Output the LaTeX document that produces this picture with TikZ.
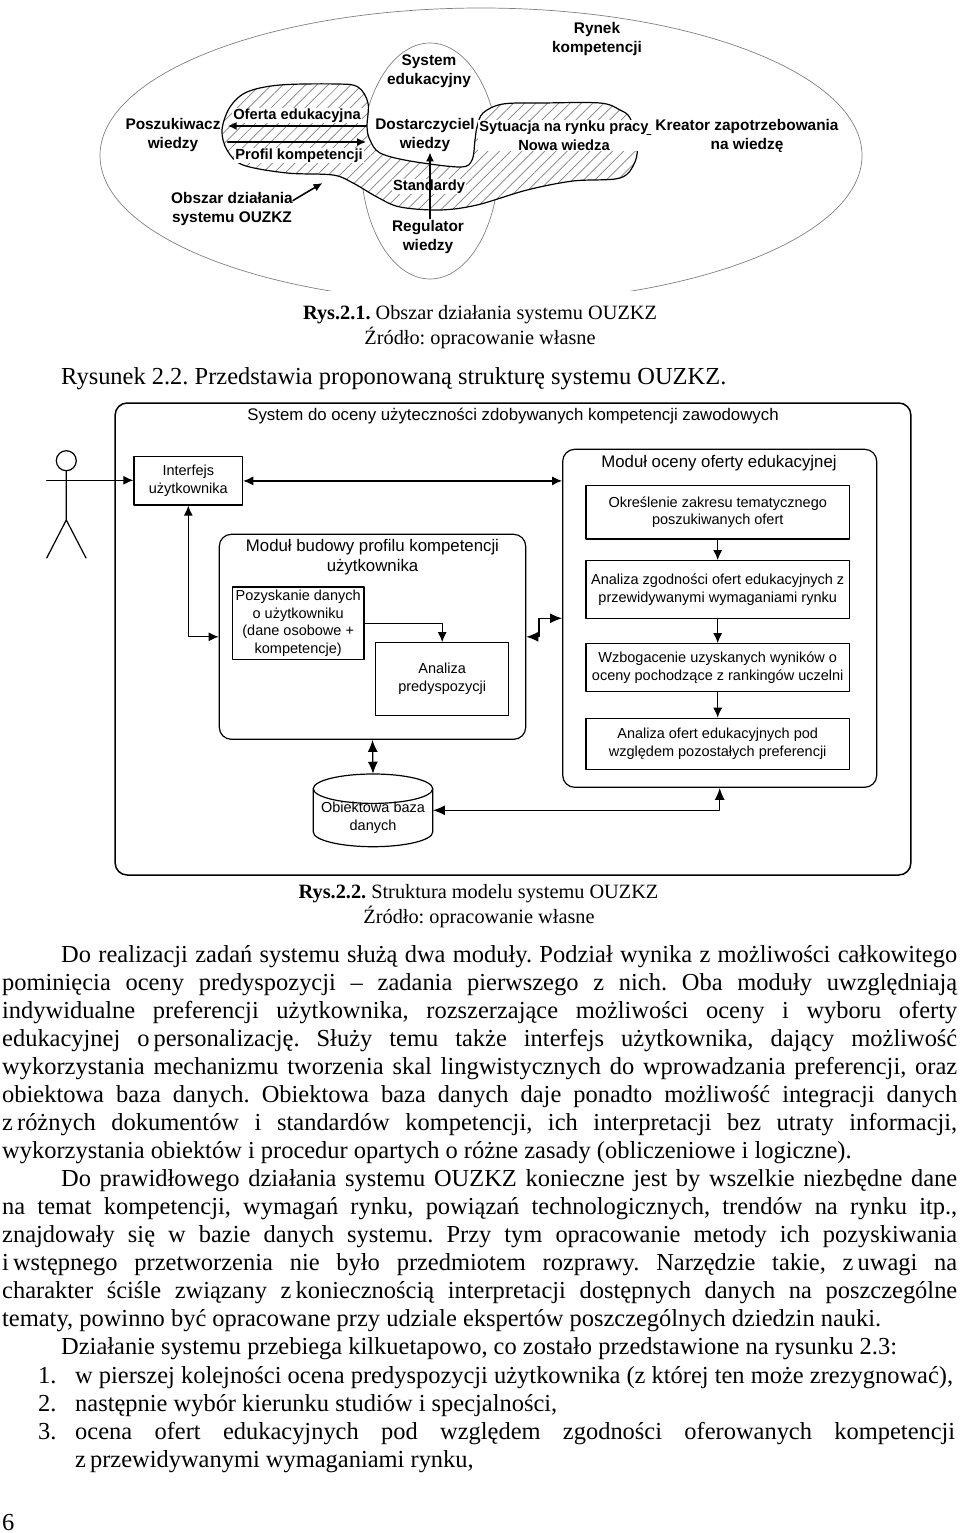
\documentclass[tikz,border=0pt]{standalone}
\usepackage{fontspec}
\setmainfont{Liberation Serif}
\setsansfont{Liberation Sans}
\frenchspacing
\usetikzlibrary{arrows.meta,patterns.meta}
\tikzset{
  rysnapis/.style={font=\sffamily\bfseries\fontsize{15.4}{19}\selectfont,align=center,inner sep=0pt},
  blobnapis/.style={font=\sffamily\bfseries\fontsize{14.7}{18.6}\selectfont,align=center,fill=white,inner sep=1pt},
  modul/.style={draw,rounded corners=12pt,line width=1.2pt,inner sep=0pt},
  blok/.style={draw,line width=1.2pt,inner sep=0pt,align=center,font=\sffamily\fontsize{14.5}{17.6}\selectfont},
  tytul/.style={font=\sffamily\fontsize{16.8}{20}\selectfont,align=center,inner sep=0pt},
  podpis/.style={font=\fontsize{20.3}{24}\selectfont,inner sep=0pt,anchor=base},
  tekst/.style={font=\fontsize{24.45}{28}\selectfont,inner sep=0pt,anchor=base west},
  lacznik/.style={line width=1.6pt,>={Latex[length=9pt,width=8pt]}},
  strzalka/.style={line width=1.2pt,>={Latex[length=10pt,width=9pt]}}
}
\newcommand{\wiersz}[4]{\node[tekst] (w#3) at (#2,#3) {\hbox to #1pt{#4}};}
\newcommand{\koniec}[3]{\node[tekst] (w#2) at (#1,#2) {#3};}
\begin{document}
\begin{tikzpicture}[x=1pt,y=-1pt,line cap=round,line join=round]
  \useasboundingbox (0,0) rectangle (960,1533);

  % Figure 1: market ellipse and lobes.
  \begin{scope}
    \clip (90,0) rectangle (870,290);
    \draw[gray,line width=0.7pt] (481,155.5) ellipse (381 and 147.5);
  \end{scope}
  \draw[gray,line width=0.7pt] (430,161) ellipse (69 and 118);
  \draw[line width=1.2pt,preaction={fill=white},
    pattern={Lines[angle=45,distance=8pt,line width=0.7pt]},pattern color=gray]
    plot[smooth cycle,tension=0.55] coordinates {
      (280,85) (337,84) (358,87) (368,103) (367,127) (370,140) (380,153) (410,161)
      (460,167) (472,160) (475,140) (477,127) (483,113) (503,104) (543,103) (600,103)
      (620,110) (630,118) (637,142) (635,162) (620,178) (573,181) (527,190) (477,205)
      (440,210) (400,207) (377,197) (353,183) (333,175) (287,173) (243,165) (227,150)
      (222,130) (230,107) (247,92)};

  \node[rysnapis] (rynek) at (597,39.5) {Rynek\\kompetencji};
  \node[rysnapis] (system) at (429,71) {System\\edukacyjny};
  \node[rysnapis,inner xsep=9pt] (dostarczyciel) at (425,135.5) {Dostarczyciel\\wiedzy};
  \node[blobnapis] (sytuacja) at (564,135.5) {Sytuacja na rynku pracy\\Nowa wiedza};
  \draw[line width=1pt] (sytuacja.east) ++(-3,0) ++(0,-1) -- ++(4,0);
  \node[rysnapis] (kreator) at (747,135.5) {Kreator zapotrzebowania\\na wiedzę};
  \node[rysnapis,inner xsep=7pt] (poszukiwacz) at (173,135.5) {Poszukiwacz\\wiedzy};
  \node[blobnapis] (oferta) at (297,115.5) {Oferta edukacyjna};
  \node[blobnapis] (profil) at (299,155.5) {Profil kompetencji};
  \node[rysnapis] (obszar) at (232,209.5) {Obszar działania\\systemu OUZKZ};
  \node[blobnapis] (standardy) at (429,186.5) {Standardy};
  \node[rysnapis,inner ysep=2pt] (regulator) at (428,237.5) {Regulator\\wiedzy};
  \coordinate (obszarcel) at (322.5,183);

  \draw[lacznik,->] ([yshift=9.5pt]dostarczyciel.west) -- ([yshift=9.5pt]poszukiwacz.east);
  \draw[lacznik,->] ([yshift=-6.5pt]poszukiwacz.east) -- ([yshift=-6.5pt]dostarczyciel.west);
  \draw[lacznik,->] ([yshift=9pt]obszar.east) -- (obszarcel);
  \draw[lacznik,->] ([xshift=2pt]regulator.north) -- ([xshift=2pt]regulator.north |- dostarczyciel.south);

  \node[podpis] (rys1) at (480,319) {\textbf{Rys.2.1.} Obszar działania systemu OUZKZ};
  \node[podpis] (zrodlo1) at (480,344) {Źródło: opracowanie własne};
  \node[tekst] (rysunek) at (61,384) {Rysunek 2.2. Przedstawia proponowaną strukturę systemu OUZKZ.};

  % Figure 2: system frame.
  \node[modul,line width=1.5pt,minimum width=795.7pt,minimum height=472pt] (ramka) at (513,639) {};
  \node[tytul] (ramkatytul) at (513,416) {System do oceny użyteczności zdobywanych kompetencji zawodowych};

  % Actor.
  \draw[line width=1.2pt] (66.3,460.7) circle (10);
  \draw[line width=1.2pt] (66.3,470.7) -- (66.3,520) (46.7,558) -- (66.3,520) -- (86,558);
  \coordinate (reka) at (46.7,480.3);

  \node[blok,minimum width=108.7pt,minimum height=48.3pt] (interfejs) at (188.3,480.9) {Interfejs\\użytkownika};

  % Profile module.
  \node[modul,minimum width=306.4pt,minimum height=205pt] (budowa) at (372.5,636.8) {};
  \node[tytul] (budowatytul) at (372.5,557) {Moduł budowy profilu kompetencji\\użytkownika};
  \node[blok,minimum width=131.7pt,minimum height=72.7pt] (pozyskanie) at (298.2,623.3)
    {Pozyskanie danych\\o użytkowniku\\(dane osobowe +\\kompetencje)};
  \node[blok,minimum width=133pt,minimum height=72.6pt] (predyspozycje) at (442.2,679) {Analiza\\predyspozycji};

  % Offer module.
  \node[modul,minimum width=314pt,minimum height=338pt] (ocena) at (719.7,618.3) {};
  \node[tytul] (ocenatytul) at (719,463) {Moduł oceny oferty edukacyjnej};
  \node[blok,minimum width=263.3pt,minimum height=53.3pt] (zakres) at (717.7,512.3)
    {Określenie zakresu tematycznego\\poszukiwanych ofert};
  \node[blok,minimum width=263.3pt,minimum height=58pt] (zgodnosc) at (717.7,589.7)
    {Analiza zgodności ofert edukacyjnych z\\przewidywanymi wymaganiami rynku};
  \node[blok,minimum width=263.3pt,minimum height=47.6pt] (wzbogacenie) at (717.7,667.5)
    {Wzbogacenie uzyskanych wyników o\\oceny pochodzące z rankingów uczelni};
  \node[blok,minimum width=263.3pt,minimum height=51pt] (preferencje) at (717.7,743.8)
    {Analiza ofert edukacyjnych pod\\względem pozostałych preferencji};

  % Database.
  \node[minimum width=119.4pt,minimum height=72.7pt,inner sep=0pt] (baza) at (373,810.3) {};
  \draw[line width=1.2pt] (373,788.7) ellipse (59.7 and 14.7);
  \draw[line width=1.2pt] (313.3,788.7) -- (313.3,832) arc[start angle=180,end angle=0,x radius=59.7,y radius=14.7] -- (432.7,788.7);
  \node[font=\sffamily\fontsize{14.5}{17.6}\selectfont,align=center,inner sep=0pt] (bazanapis) at (373,817.5) {Obiektowa baza\\danych};

  % Connectors.
  \draw[strzalka,->] (reka) -- (reka -| interfejs.west);
  \draw[strzalka,<->] (interfejs.east) -- (interfejs.east -| ocena.west);
  \draw[strzalka,<->] (interfejs.south) |- (budowa.west);
  \draw[strzalka,->] (pozyskanie.east) -| (predyspozycje.north);
  \draw[strzalka,<->,>={Latex[length=12pt,width=10pt]}] (budowa.east) -- ++(12.6,0) |- (ocena.west);
  \draw[strzalka,<->,>={Latex[length=12pt,width=10pt]}] (budowa.south) -- (baza.north);
  \draw[strzalka,<->,>={Latex[length=12pt,width=10pt]}] (baza.east) -| (ocena.south);
  \foreach \a/\b in {zakres/zgodnosc,zgodnosc/wzbogacenie,wzbogacenie/preferencje} {
    \draw[strzalka,->] (\a.south) -- (\b.north);
  }

  \node[podpis] (rys2) at (478.5,898) {\textbf{Rys.2.2.} Struktura modelu systemu OUZKZ};
  \node[podpis] (zrodlo2) at (479,923) {Źródło: opracowanie własne};

  % Body text.
  \wiersz{896}{61}{962}{Do realizacji zadań systemu służą dwa moduły. Podział wynika z możliwości całkowitego}
  \wiersz{955}{2}{990}{pominięcia oceny predyspozycji – zadania pierwszego z nich. Oba moduły uwzględniają}
  \wiersz{955}{2}{1018}{indywidualne preferencji użytkownika, rozszerzające możliwości oceny i wyboru oferty}
  \wiersz{955}{2}{1046}{edukacyjnej o\,personalizację. Służy temu także interfejs użytkownika, dający możliwość}
  \wiersz{955}{2}{1074}{wykorzystania mechanizmu tworzenia skal lingwistycznych do wprowadzania preferencji, oraz}
  \wiersz{955}{2}{1102}{obiektowa baza danych. Obiektowa baza danych daje ponadto możliwość integracji danych}
  \wiersz{955}{2}{1130}{z\,różnych dokumentów i standardów kompetencji, ich interpretacji bez utraty informacji,}
  \koniec{2}{1158}{wykorzystania obiektów i procedur opartych o różne zasady (obliczeniowe i logiczne).}
  \wiersz{896}{61}{1186}{Do prawidłowego działania systemu OUZKZ konieczne jest by wszelkie niezbędne dane}
  \wiersz{955}{2}{1214}{na temat kompetencji, wymagań rynku, powiązań technologicznych, trendów na rynku itp.,}
  \wiersz{955}{2}{1242}{znajdowały się w bazie danych systemu. Przy tym opracowanie metody ich pozyskiwania}
  \wiersz{955}{2}{1270}{i\,wstępnego przetworzenia nie było przedmiotem rozprawy. Narzędzie takie, z\,uwagi na}
  \wiersz{955}{2}{1298}{charakter ściśle związany z\,koniecznością interpretacji dostępnych danych na poszczególne}
  \koniec{2}{1326}{tematy, powinno być opracowane przy udziale ekspertów poszczególnych dziedzin nauki.}
  \koniec{61}{1354}{Działanie systemu przebiega kilkuetapowo, co zostało przedstawione na rysunku 2.3:}
  \node[tekst] (n1) at (38,1383) {1.};
  \koniec{75}{1383}{w pierszej kolejności ocena predyspozycji użytkownika (z której ten może zrezygnować),}
  \node[tekst] (n2) at (38,1411) {2.};
  \koniec{75}{1411}{następnie wybór kierunku studiów i specjalności,}
  \node[tekst] (n3) at (38,1439) {3.};
  \wiersz{880}{75}{1439}{ocena ofert edukacyjnych pod względem zgodności oferowanych kompetencji}
  \koniec{75}{1467}{z\,przewidywanymi wymaganiami rynku,}
  \koniec{2}{1530}{6}
\end{tikzpicture}
\end{document}
